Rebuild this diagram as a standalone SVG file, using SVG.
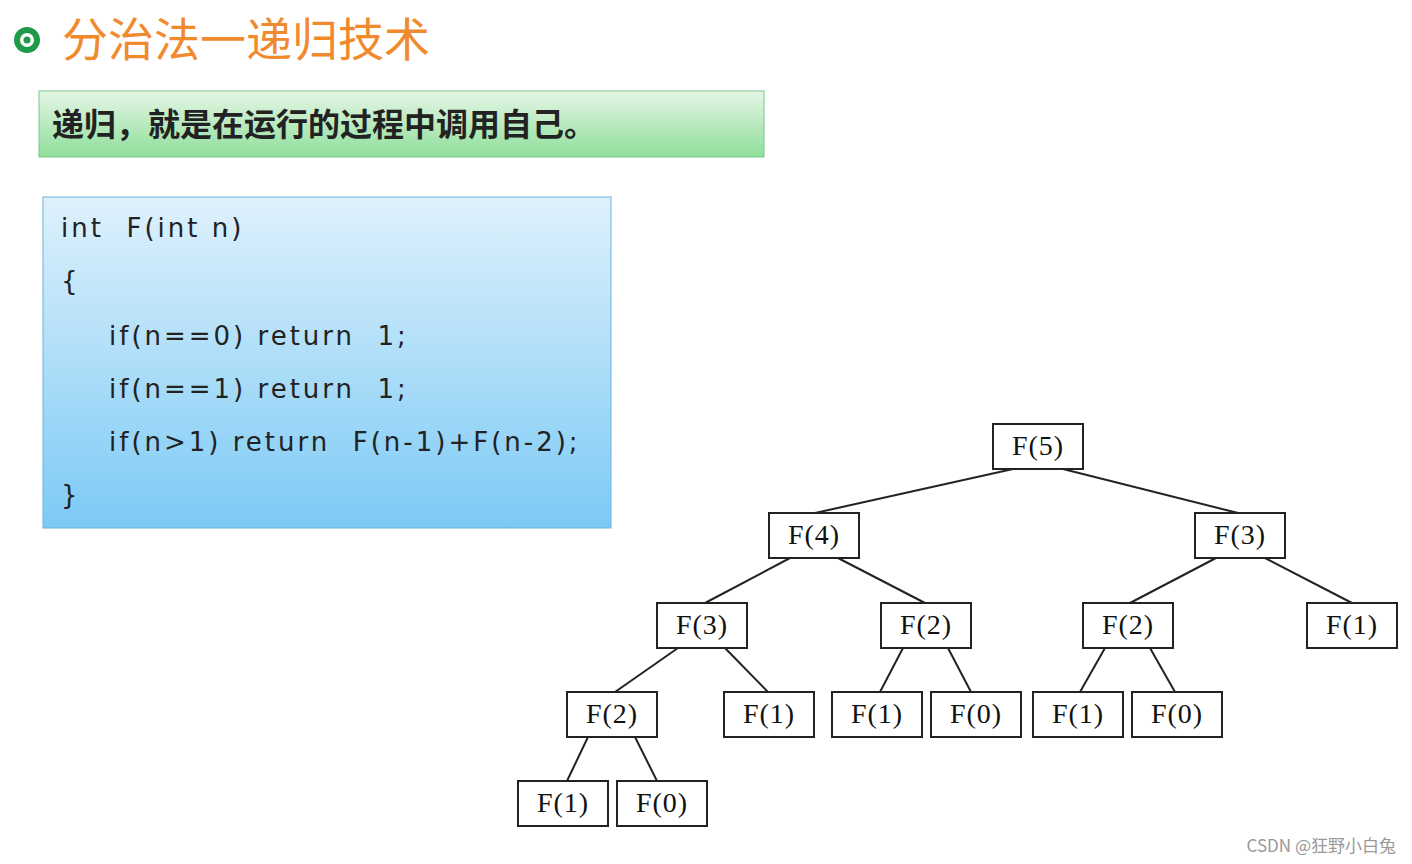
<svg xmlns="http://www.w3.org/2000/svg" width="1412" height="864" viewBox="0 0 1412 864">
<defs>
<linearGradient id="g" x1="0" y1="0" x2="0" y2="1"><stop offset="0" stop-color="#e6f6e6"/><stop offset="1" stop-color="#8ede9a"/></linearGradient>
<linearGradient id="b" x1="0" y1="0" x2="0" y2="1"><stop offset="0" stop-color="#dff1fc"/><stop offset="1" stop-color="#7ccaf5"/></linearGradient>
<style>
.n rect{fill:#fff;stroke:#222;stroke-width:2}
.n text{font-family:"Liberation Serif","Noto Sans CJK SC",serif;font-size:28px;fill:#111;text-anchor:middle;letter-spacing:1px}
.c line{stroke:#222;stroke-width:2}
.code{font-family:"DejaVu Sans","Noto Sans CJK SC",sans-serif;font-size:26px;fill:#222;letter-spacing:3px;white-space:pre}
</style>
</defs>
<rect width="1412" height="864" fill="#fff"/>
<g id="icon"><circle cx="27" cy="40" r="13" fill="#1f9a4a"/><circle cx="27" cy="40" r="7" fill="#fff"/><circle cx="27" cy="40" r="3.5" fill="#1f9a4a"/></g>
<text x="62" y="56" font-family="Noto Sans CJK SC,sans-serif" font-size="46" fill="#f08a2c">分治法一递归技术</text>
<g id="banner"><rect x="39" y="91" width="725" height="66" fill="url(#g)" stroke="#7ac88a"/>
<text x="52" y="136" font-family="Noto Sans CJK SC,sans-serif" font-size="32" font-weight="bold" fill="#222">递归，就是在运行的过程中调用自己。</text></g>
<g id="code"><rect x="43" y="197" width="568" height="331" fill="url(#b)" stroke="#6ab4e0"/>
<text class="code" x="61" y="237" xml:space="preserve">int  F(int n)</text>
<text class="code" x="61" y="290">{</text>
<text class="code" x="109" y="345" xml:space="preserve">if(n==0) return  1;</text>
<text class="code" x="109" y="398" xml:space="preserve">if(n==1) return  1;</text>
<text class="code" x="109" y="451" xml:space="preserve">if(n&gt;1) return  F(n-1)+F(n-2);</text>
<text class="code" x="61" y="504">}</text></g>
<g class="c">
<line x1="1013" y1="469" x2="815" y2="513"/><line x1="1063" y1="469" x2="1238" y2="513"/>
<line x1="790" y1="558" x2="705" y2="603"/><line x1="838" y1="558" x2="925" y2="603"/>
<line x1="1216" y1="558" x2="1130" y2="603"/><line x1="1265" y1="558" x2="1352" y2="603"/>
<line x1="678" y1="648" x2="615" y2="692"/><line x1="725" y1="648" x2="768" y2="692"/>
<line x1="903" y1="648" x2="880" y2="692"/><line x1="948" y1="648" x2="971" y2="692"/>
<line x1="1105" y1="648" x2="1080" y2="692"/><line x1="1150" y1="648" x2="1175" y2="692"/>
<line x1="588" y1="737" x2="567" y2="781"/><line x1="635" y1="737" x2="657" y2="781"/>
</g>
<g id="n1" class="n"><rect x="993" y="424" width="90" height="45"/><text x="1038" y="455">F(5)</text></g>
<g id="n2" class="n"><rect x="769" y="513" width="90" height="45"/><text x="814" y="544">F(4)</text></g>
<g id="n3" class="n"><rect x="1195" y="513" width="90" height="45"/><text x="1240" y="544">F(3)</text></g>
<g id="n4" class="n"><rect x="657" y="603" width="90" height="45"/><text x="702" y="634">F(3)</text></g>
<g id="n5" class="n"><rect x="881" y="603" width="90" height="45"/><text x="926" y="634">F(2)</text></g>
<g id="n6" class="n"><rect x="1083" y="603" width="90" height="45"/><text x="1128" y="634">F(2)</text></g>
<g id="n7" class="n"><rect x="1307" y="603" width="90" height="45"/><text x="1352" y="634">F(1)</text></g>
<g id="n8" class="n"><rect x="567" y="692" width="90" height="45"/><text x="612" y="723">F(2)</text></g>
<g id="n9" class="n"><rect x="724" y="692" width="90" height="45"/><text x="769" y="723">F(1)</text></g>
<g id="n10" class="n"><rect x="832" y="692" width="90" height="45"/><text x="877" y="723">F(1)</text></g>
<g id="n11" class="n"><rect x="931" y="692" width="90" height="45"/><text x="976" y="723">F(0)</text></g>
<g id="n12" class="n"><rect x="1033" y="692" width="90" height="45"/><text x="1078" y="723">F(1)</text></g>
<g id="n13" class="n"><rect x="1132" y="692" width="90" height="45"/><text x="1177" y="723">F(0)</text></g>
<g id="n14" class="n"><rect x="518" y="781" width="90" height="45"/><text x="563" y="812">F(1)</text></g>
<g id="n15" class="n"><rect x="617" y="781" width="90" height="45"/><text x="662" y="812">F(0)</text></g>
<text x="1396" y="852" text-anchor="end" font-family="Noto Sans CJK SC,sans-serif" font-size="17" fill="#999">CSDN @狂野小白兔</text>
</svg>
